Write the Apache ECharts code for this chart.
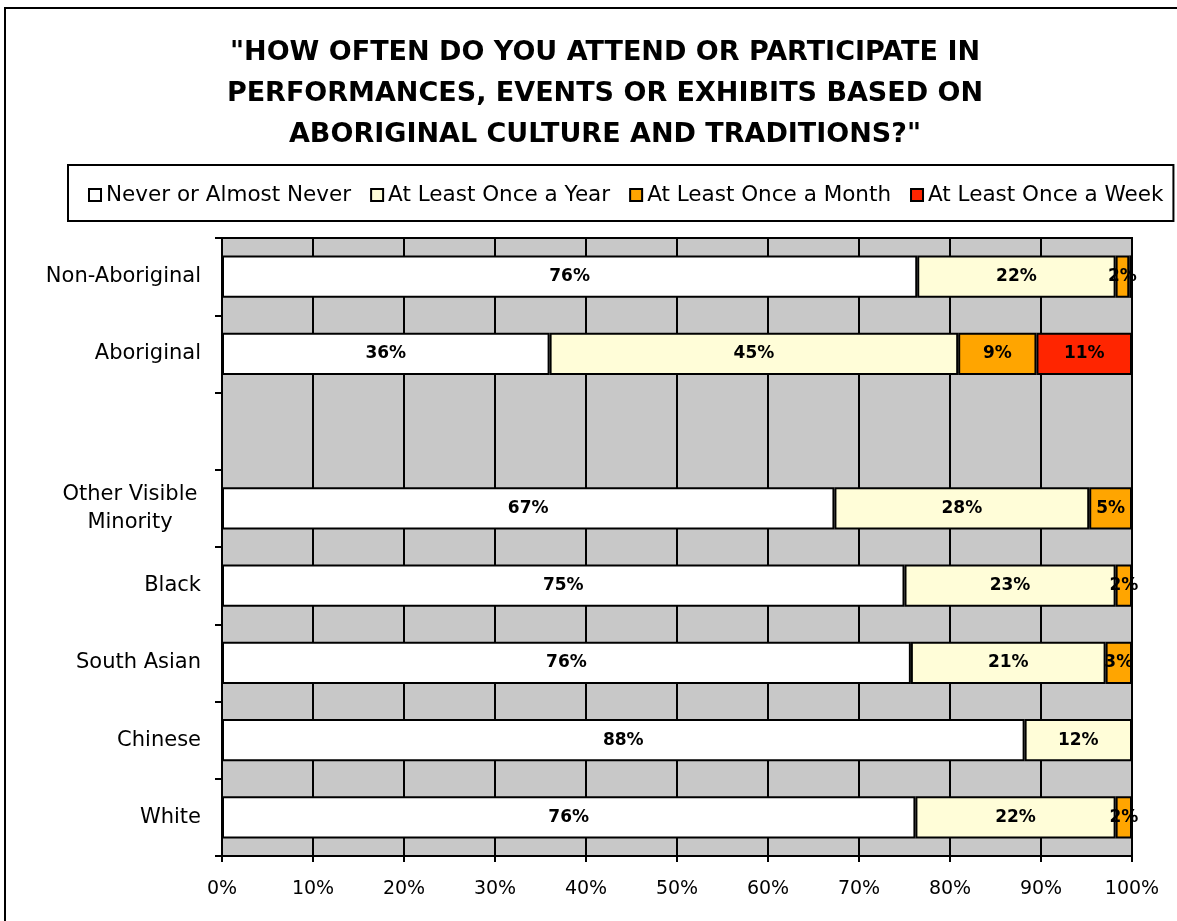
<!DOCTYPE html>
<html><head><meta charset="utf-8">
<script src="https://cdn.jsdelivr.net/npm/echarts@6/dist/echarts.min.js"></script>
<style>
html,body{margin:0;padding:0;background:#fff;overflow:hidden;}
#frame{position:absolute;left:4px;top:7px;width:1300px;height:1000px;border:2px solid #000;box-sizing:border-box;}
#chart{position:absolute;left:0;top:0;width:1177px;height:921px;}
</style></head>
<body>
<div id="frame"></div>
<div id="chart"></div>
<script>
const titleText = '"HOW OFTEN DO YOU ATTEND OR PARTICIPATE IN\nPERFORMANCES, EVENTS OR EXHIBITS BASED ON\nABORIGINAL CULTURE AND TRADITIONS?"';
const categories = ['Non-Aboriginal', 'Aboriginal', '', 'Other Visible\nMinority', 'Black', 'South Asian', 'Chinese', 'White'];
const seriesNames = ['Never or Almost Never', 'At Least Once a Year', 'At Least Once a Month', 'At Least Once a Week'];
const neverVals = [76.4, 36.0, null, 67.3, 75.0, 75.7, 88.2, 76.2];
const yearVals  = [21.8, 44.9, null, 28.0, 23.2, 21.4, 11.8, 22.0];
const monthVals = [1.5, 8.6, null, 4.7, 1.8, 2.9, null, 1.8];
const weekVals  = [0.3, 10.5, null, null, null, null, null, null];
const xTicks = [0, 10, 20, 30, 40, 50, 60, 70, 80, 90, 100];
const colors = ['#FFFFFF', '#FFFDD8', '#FFA500', '#FF2500'];

const FONT = 'DejaVu Sans';
const chart = echarts.init(document.getElementById('chart'));
const allVals = [neverVals, yearVals, monthVals, weekVals];
const series = seriesNames.map((n, i) => ({
  name: n, type: 'bar', stack: 'total', barWidth: '55%',
  data: allVals[i],
  itemStyle: { color: colors[i], borderColor: '#000', borderWidth: 2 },
  label: {
    show: true, position: 'inside', color: '#000', fontFamily: FONT, fontWeight: 'bold', fontSize: 17,
    formatter: p => (p.value == null || p.value < 1) ? '' : Math.round(p.value) + '%'
  },
  emphasis: { disabled: true },
  animation: false
}));

chart.setOption({
  animation: false,
  title: {
    text: titleText, left: 600, top: 27, textAlign: 'center',
    textStyle: { fontFamily: FONT, fontWeight: 'bold', fontSize: 27, lineHeight: 41, color: '#000' }
  },
  legend: {
    data: seriesNames, left: 68, top: 165,
    borderColor: '#000', borderWidth: 2, padding: [19, 10, 15, 20],
    itemWidth: 12, itemHeight: 12, itemGap: 19,
    icon: 'rect',
    textStyle: { fontFamily: FONT, fontSize: 21.5, color: '#000' }
  },
  grid: {
    left: 222, right: 45, top: 238, bottom: 65, show: true,
    backgroundColor: '#C8C8C8', borderColor: '#000', borderWidth: 2, containLabel: false
  },
  xAxis: {
    type: 'value', min: 0, max: 100, interval: 10,
    axisLine: { show: true, lineStyle: { color: '#000', width: 2 } },
    axisTick: { show: true, length: 6, lineStyle: { color: '#000', width: 2 } },
    splitLine: { show: true, lineStyle: { color: '#000', width: 2 } },
    axisLabel: { formatter: v => xTicks.includes(v) ? v + '%' : '', fontFamily: FONT, fontSize: 19, color: '#000', margin: 24 }
  },
  yAxis: {
    type: 'category', data: categories, inverse: true,
    axisLine: { show: true, lineStyle: { color: '#000', width: 2 } },
    axisTick: { show: true, length: 7, lineStyle: { color: '#000', width: 2 } },
    axisLabel: {
      fontFamily: FONT, fontSize: 21, color: '#000', margin: 21, lineHeight: 28, align: 'right',
      formatter: v => v.indexOf('\n') >= 0 ? v.split('\n').map(l => '{c|' + l + '}').join('\n') : v,
      rich: { c: { width: 142, align: 'center', fontFamily: FONT, fontSize: 21, color: '#000', lineHeight: 28 } }
    },
    splitLine: { show: false }
  },
  series: series
});
</script>
</body></html>
